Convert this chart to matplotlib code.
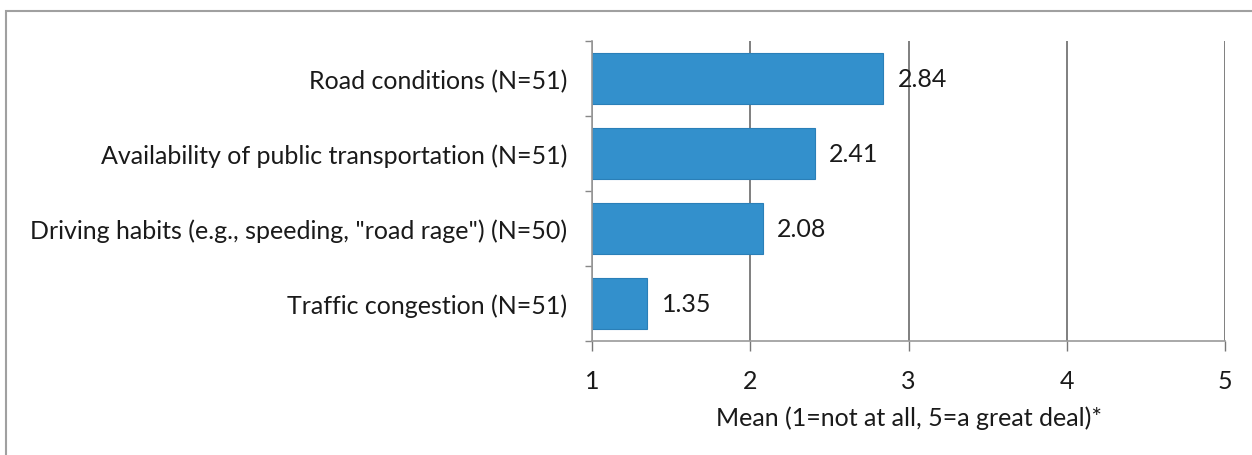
import numpy as np
import matplotlib
matplotlib.use("Agg")
import matplotlib.pyplot as plt
import matplotlib.patches as patches

categories = ['Road conditions (N=51)',
              'Availability of public transportation (N=51)',
              'Driving habits (e.g., speeding, "road rage") (N=50)',
              'Traffic congestion (N=51)']
means = [2.84, 2.41, 2.08, 1.35]
xticks = [1, 2, 3, 4, 5]
xlabel = 'Mean (1=not at all, 5=a great deal)*'

plt.rcParams['font.family'] = ['Lato', 'DejaVu Sans']
fs = 18

fig = plt.figure(figsize=(12.52, 4.56), dpi=100)
ax = fig.add_axes([592/1252, 1-342/456, (1225-592)/1252, (342-42)/456])

ypos = np.arange(len(categories))
ax.barh(ypos, [m - 1 for m in means], left=1, height=0.67,
        color='#3390cc', edgecolor='#2a7fb8', linewidth=0.8, zorder=2)
for y, m in zip(ypos, means):
  ax.text(m + 0.09, y, f'{m:.2f}', va='center', ha='left', fontsize=fs, color='#1a1a1a', zorder=3)

ax.set_xlim(1, 5)
ax.set_ylim(len(categories) - 0.5, -0.5)
ax.set_xticks(xticks)
ax.set_xticklabels([str(t) for t in xticks], fontsize=fs, color='#1a1a1a')
ax.set_yticks(ypos)
ax.set_yticklabels(categories, fontsize=fs, color='#1a1a1a')
ax.set_yticks(np.arange(-0.5, len(categories), 1), minor=True)
ax.tick_params(axis='y', which='major', length=0, pad=18)
ax.tick_params(axis='y', which='minor', length=5, color='#888888', width=1)
ax.tick_params(axis='x', length=7, color='#777777', width=1, pad=13)
ax.grid(axis='x', color='#6a6a6a', linewidth=1.2, zorder=0)
ax.set_xlabel(xlabel, fontsize=fs, color='#1a1a1a', labelpad=10)

for s in ['top', 'right']:
  ax.spines[s].set_visible(False)
ax.spines['left'].set_color('#999999')
ax.spines['bottom'].set_color('#999999')
ax.spines['left'].set_linewidth(1.2)
ax.spines['bottom'].set_linewidth(1.2)

# outer chart border (scan shows top and left edges)
fig.patches.append(patches.Rectangle((6/1252, -0.1), 1.2, 1.1 - 12/456,
                                     transform=fig.transFigure, fill=False,
                                     edgecolor='#a0a0a0', linewidth=1.5))

fig.savefig('out.png', dpi=100)
